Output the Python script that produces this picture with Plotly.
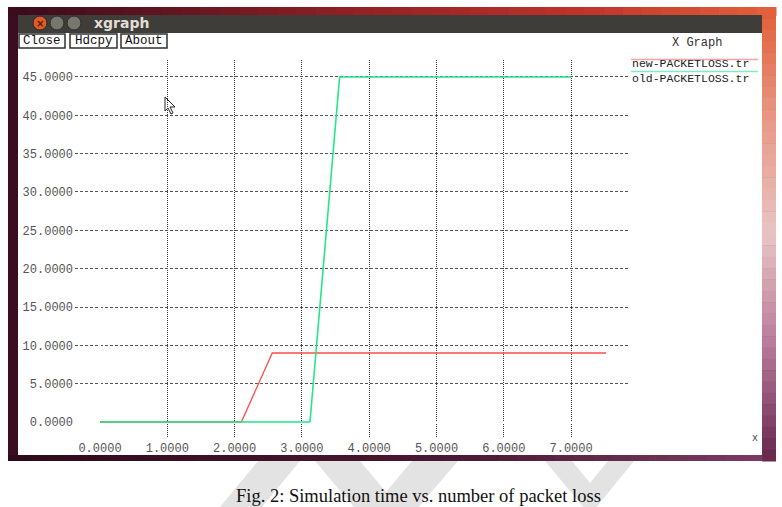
import plotly.graph_objects as go

# ---- data ----
new_x = [0.0, 2.10, 2.56, 7.52]
new_y = [0.0, 0.0, 9.0, 9.0]
old_x = [0.0, 3.12, 3.56, 7.0]
old_y = [0.0, 0.0, 45.0, 45.0]
x_ticks = [0, 1, 2, 3, 4, 5, 6, 7]
y_ticks = [0, 5, 10, 15, 20, 25, 30, 35, 40, 45]
series_names = ["new-PACKETLOSS.tr", "old-PACKETLOSS.tr"]
caption = "Fig. 2: Simulation time vs. number of packet loss"

W, H = 782, 507
def X(px): return px / W
def Y(py): return 1 - py / H

def lerp(c1, c2, t):
    a = [int(c1[i:i+2], 16) for i in (1, 3, 5)]
    b = [int(c2[i:i+2], 16) for i in (1, 3, 5)]
    return "#%02x%02x%02x" % tuple(round(a[k] + (b[k] - a[k]) * t) for k in range(3))

def grad(stops, t):
    for i in range(len(stops) - 1):
        t0, c0 = stops[i]
        t1, c1 = stops[i + 1]
        if t <= t1:
            return lerp(c0, c1, (t - t0) / (t1 - t0) if t1 > t0 else 0)
    return stops[-1][1]

shapes = []
def rect(x0, y0, x1, y1, fill, line=None, lw=0, layer="below"):
    shapes.append(dict(type="rect", xref="paper", yref="paper",
                       x0=X(x0), x1=X(x1), y0=Y(y1), y1=Y(y0),
                       fillcolor=fill, line=dict(color=line or fill, width=lw), layer=layer))

# desktop background
rect(8, 7, 776, 461, "#4a1530")
# top strip gradient
top_stops = [(0, "#3a0c1c"), (0.4, "#8a1e24"), (0.75, "#c0322a"), (1, "#e2603a")]
n = 40
for i in range(n):
    x0 = 8 + (768) * i / n
    x1 = 8 + (768) * (i + 1) / n + 0.5
    rect(x0, 7, x1, 16, grad(top_stops, i / (n - 1)))
# right strip gradient
right_stops = [(0, "#e2603a"), (0.25, "#e89a88"), (0.5, "#e8c4c4"), (0.75, "#b87a9a"), (1, "#6a2a50")]
for i in range(n):
    y0 = 7 + 454 * i / n
    y1 = 7 + 454 * (i + 1) / n + 0.5
    rect(762, y0, 776, y1, grad(right_stops, i / (n - 1)))
# bottom strip gradient
bot_stops = [(0, "#2e0a1a"), (0.6, "#4a1a34"), (1, "#7a3a60")]
for i in range(n):
    x0 = 8 + 754 * i / n
    x1 = 8 + 754 * (i + 1) / n + 0.5
    rect(x0, 455, x1, 461, grad(bot_stops, i / (n - 1)))
# left border
rect(8, 16, 18, 455, "#3a0d20")

# window title bar
rect(18, 15, 762, 33, "#3e3d39")
# window client area
rect(18, 33, 762, 455, "#ffffff")

# window control buttons
for cx, col in [(40, "#e05a2a"), (57, "#77766f"), (74, "#77766f")]:
    shapes.append(dict(type="circle", xref="paper", yref="paper",
                       x0=X(cx - 7), x1=X(cx + 7), y0=Y(30), y1=Y(16),
                       fillcolor=col, line=dict(color="#2a2a28", width=1), layer="below"))

# xgraph buttons
buttons = [("Close", 19, 65), ("Hdcpy", 70, 117), ("About", 121, 167)]
for _, x0, x1 in buttons:
    rect(x0, 34, x1, 48, "#ffffff", line="#303030", lw=1.5)

# legend swatches
shapes.append(dict(type="line", xref="paper", yref="paper", x0=X(631), x1=X(758),
                   y0=Y(59.5), y1=Y(59.5), line=dict(color="#f4a4a4", width=1.5)))
shapes.append(dict(type="line", xref="paper", yref="paper", x0=X(631), x1=X(758),
                   y0=Y(71.5), y1=Y(71.5), line=dict(color="#80ecc0", width=1.5)))

# watermark chevrons
def poly(pts, fill):
    d = "M " + " L ".join(f"{X(px)},{Y(py)}" for px, py in pts) + " Z"
    shapes.append(dict(type="path", xref="paper", yref="paper", path=d,
                       fillcolor=fill, line=dict(width=0), layer="below"))
wm = "#e3e3e3"
poly([(315, 461), (360, 461), (386, 492), (412, 461), (458, 461), (386, 545)], wm)
poly([(545, 461), (572, 461), (590, 483), (608, 461), (634, 461), (590, 515)], wm)
poly([(258, 461), (300, 461), (262, 507), (220, 507)], wm)

# mouse cursor
cursor = [(165, 97), (165, 111), (168, 108), (171, 114), (173, 113), (170, 107), (175, 107)]
poly(cursor, "#ffffff")
shapes.append(dict(type="path", xref="paper", yref="paper",
                   path="M " + " L ".join(f"{X(px)},{Y(py)}" for px, py in cursor) + " Z",
                   fillcolor="rgba(0,0,0,0)", line=dict(color="#222", width=1), layer="above"))

annotations = []
def text(px, py, s, size=12, color="#222", family="Liberation Mono", xanchor="left", bold=False):
    annotations.append(dict(xref="paper", yref="paper", x=X(px), y=Y(py), text=("<b>%s</b>" % s) if bold else s,
                            showarrow=False, xanchor=xanchor, yanchor="middle", align="left",
                            borderpad=0,
                            font=dict(family=family, size=size, color=color)))

text(93, 23, "xgraph", size=14, color="#e2ded6", family="DejaVu Sans", bold=True)
text(40, 23, "×", size=10, color="#5a1a08", family="DejaVu Sans", xanchor="center", bold=True)
for label, x0, x1 in buttons:
    text((x0 + x1) / 2, 41, label, size=12.5, color="#111", xanchor="center")
text(697, 43, "X Graph", size=12, color="#333", xanchor="center")
text(631, 71, "<br>".join(series_names), size=11.5, color="#222")
text(755, 438, "x", size=10, color="#444", xanchor="center")
text(419, 496, caption, size=18.5, color="#111", family="Liberation Serif", xanchor="center")

fig = go.Figure()
fig.add_trace(go.Scatter(x=new_x, y=new_y, mode="lines", name=series_names[0],
                         line=dict(color="#ff4c4c", width=1.3)))
fig.add_trace(go.Scatter(x=old_x, y=old_y, mode="lines", name=series_names[1],
                         line=dict(color="#22e88a", width=1.6)))

x0_px, x1_px = 75, 630
y0_px, y1_px = 437, 60
ux = 67.3
uy = 7.667
fig.update_layout(
    width=W, height=H, margin=dict(l=0, r=0, t=0, b=0),
    paper_bgcolor="#ffffff", plot_bgcolor="rgba(0,0,0,0)",
    showlegend=False, shapes=shapes, annotations=annotations,
    xaxis=dict(domain=[X(x0_px), X(x1_px)],
               range=[(x0_px - 100) / ux, (x1_px - 100) / ux],
               tickvals=x_ticks, tickformat=".4f", showgrid=True,
               gridcolor="#333", griddash="1px,1px", gridwidth=1,
               zeroline=True, zerolinecolor="#ffffff", zerolinewidth=2,
               showline=False, ticks="", ticklabelstandoff=2,
               tickfont=dict(family="Liberation Mono", size=12, color="#555")),
    yaxis=dict(domain=[Y(y0_px), Y(y1_px)],
               range=[(422 - y0_px) / uy, (422 - y1_px) / uy],
               tickvals=y_ticks, tickformat=".4f", showgrid=True,
               gridcolor="#555", griddash="3px,2px", gridwidth=1,
               zeroline=True, zerolinecolor="#ffffff", zerolinewidth=2,
               showline=False, ticks="", ticklabelstandoff=1,
               tickfont=dict(family="Liberation Mono", size=12, color="#555")),
)
fig.write_html("out.html", config={"displayModeBar": False},
               post_script="document.body.style.margin='0';document.body.style.padding='0';document.documentElement.style.overflow='hidden';")
